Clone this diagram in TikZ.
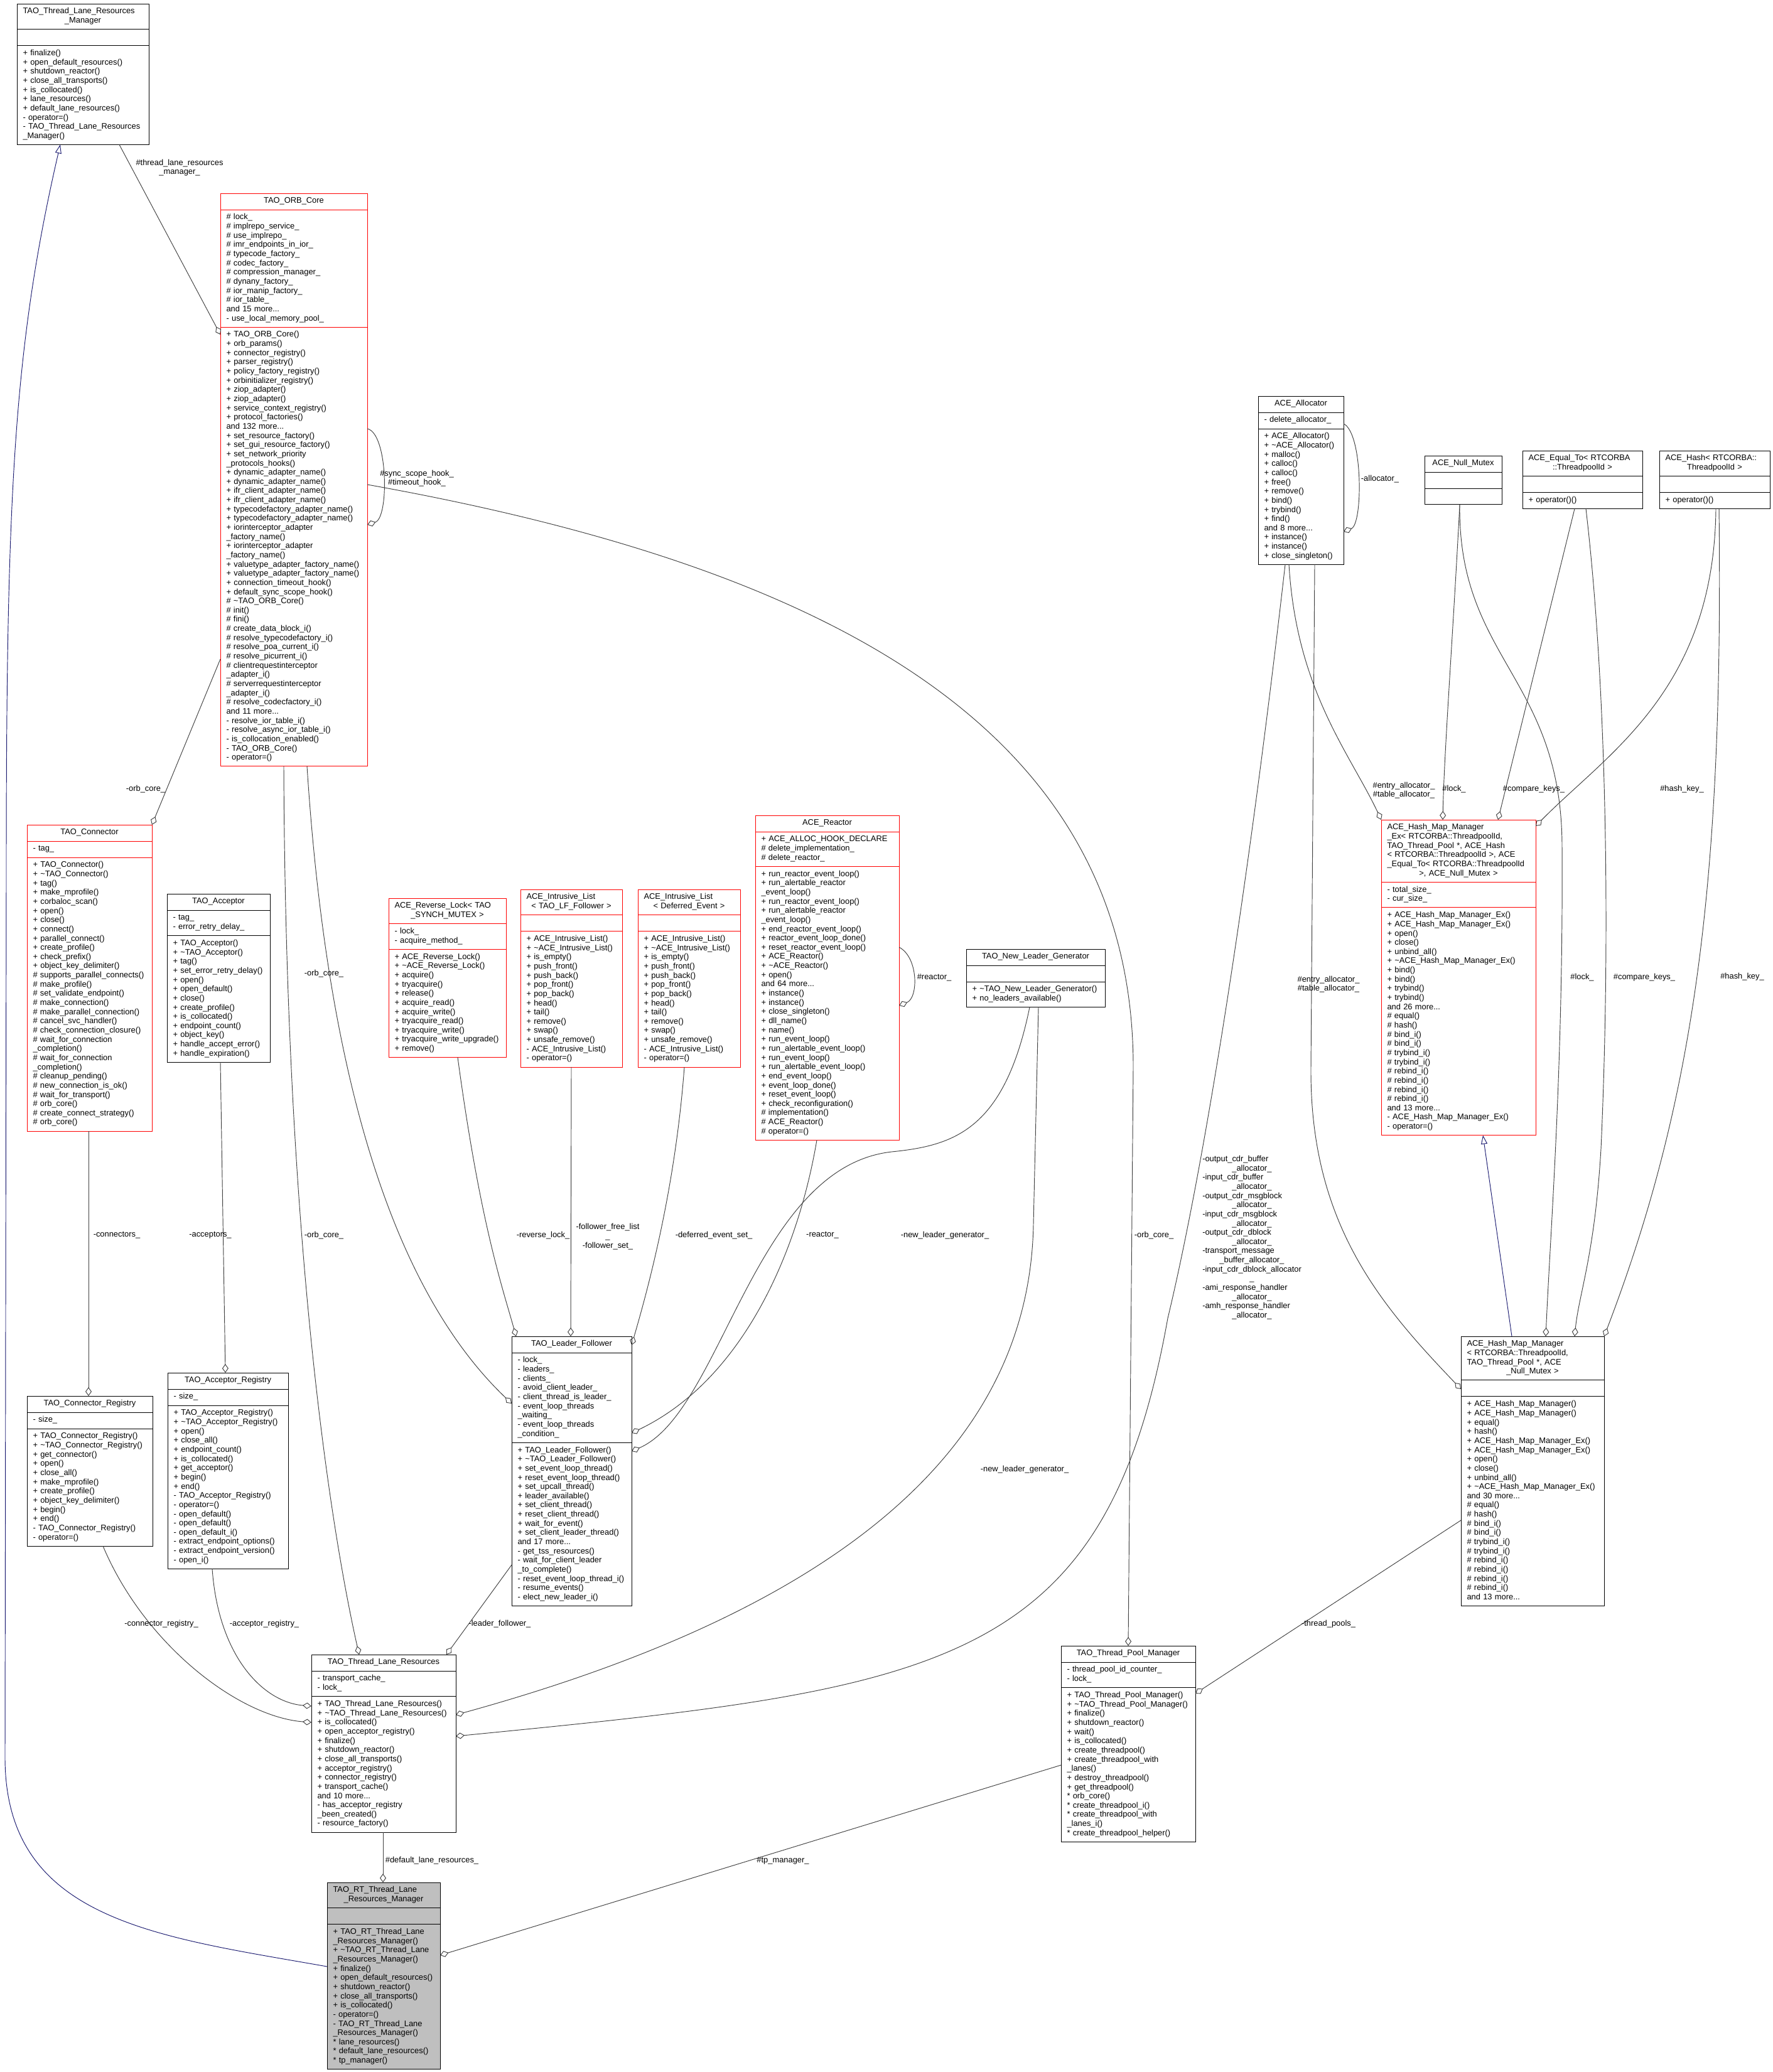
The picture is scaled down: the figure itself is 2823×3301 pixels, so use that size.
\documentclass[tikz,border=0pt]{standalone}
\usepackage{fontspec}
\setmainfont{Liberation Sans}
\usetikzlibrary{shapes.multipart,arrows.meta}
\definecolor{edgegray}{HTML}{404040}
\definecolor{inhblue}{HTML}{191970}
\definecolor{selfgray}{HTML}{BFBFBF}
\newcommand{\umlfont}{\fontsize{11}{12.5}\selectfont\hyphenpenalty=10000\exhyphenpenalty=10000\hfuzz=40pt\hbadness=10000}
\newcommand{\cpart}[1]{\strut#1\strut}
\newcommand{\ctrline}{\leavevmode\null\hfil}

\begin{document}
\catcode`\_=12
\begin{tikzpicture}[
    x=0.03cm, y=-0.03cm,
    cls/.style={rectangle split, rectangle split parts=3, draw=black, line width=0.8pt,
        anchor=north west, inner xsep=0.285cm, inner ysep=0.156cm, outer sep=0pt,
        text width={(#1-19)*0.03cm}, font=\umlfont},
    redcls/.style={cls=#1, draw=red},
    lbl/.style={font=\umlfont, align=center, inner sep=0pt},
    agg/.style={draw=edgegray, line width=0.8pt, -{Diamond[open, length=0.42cm, width=0.3cm]}},
    inh/.style={draw=inhblue, line width=0.8pt, -{Triangle[open, length=0.42cm, width=0.3cm]}}
]

\path[use as bounding box, fill=white] (0,0) rectangle (2823,3301);

% classes, top row
\node[cls=210] (tlrm) at (27,6) {\cpart{TAO_Thread_Lane_Resources\\\ctrline _Manager}%
\nodepart{two}\cpart{}%
\nodepart{three}\cpart{+ finalize()\\+ open_default_resources()\\+ shutdown_reactor()\\+ close_all_transports()\\+ is_collocated()\\+ lane_resources()\\+ default_lane_resources()\\- operator=()\\- TAO_Thread_Lane_Resources\\_Manager()}};

\node[redcls=234] (orb) at (351,308) {\cpart{\ctrline TAO_ORB_Core}%
\nodepart{two}\cpart{\# lock_\\\# implrepo_service_\\\# use_implrepo_\\\# imr_endpoints_in_ior_\\\# typecode_factory_\\\# codec_factory_\\\# compression_manager_\\\# dynany_factory_\\\# ior_manip_factory_\\\# ior_table_\\and 15 more...\\- use_local_memory_pool_}%
\nodepart{three}\cpart{+ TAO_ORB_Core()\\+ orb_params()\\+ connector_registry()\\+ parser_registry()\\+ policy_factory_registry()\\+ orbinitializer_registry()\\+ ziop_adapter()\\+ ziop_adapter()\\+ service_context_registry()\\+ protocol_factories()\\and 132 more...\\+ set_resource_factory()\\+ set_gui_resource_factory()\\+ set_network_priority\\_protocols_hooks()\\+ dynamic_adapter_name()\\+ dynamic_adapter_name()\\+ ifr_client_adapter_name()\\+ ifr_client_adapter_name()\\+ typecodefactory_adapter_name()\\+ typecodefactory_adapter_name()\\+ iorinterceptor_adapter\\_factory_name()\\+ iorinterceptor_adapter\\_factory_name()\\+ valuetype_adapter_factory_name()\\+ valuetype_adapter_factory_name()\\+ connection_timeout_hook()\\+ default_sync_scope_hook()\\\# \textasciitilde TAO_ORB_Core()\\\# init()\\\# fini()\\\# create_data_block_i()\\\# resolve_typecodefactory_i()\\\# resolve_poa_current_i()\\\# resolve_picurrent_i()\\\# clientrequestinterceptor\\_adapter_i()\\\# serverrequestinterceptor\\_adapter_i()\\\# resolve_codecfactory_i()\\and 11 more...\\- resolve_ior_table_i()\\- resolve_async_ior_table_i()\\- is_collocation_enabled()\\- TAO_ORB_Core()\\- operator=()}};

\node[cls=136] (alloc) at (2004,631) {\cpart{\ctrline ACE_Allocator}%
\nodepart{two}\cpart{- delete_allocator_}%
\nodepart{three}\cpart{+ ACE_Allocator()\\+ \textasciitilde ACE_Allocator()\\+ malloc()\\+ calloc()\\+ calloc()\\+ free()\\+ remove()\\+ bind()\\+ trybind()\\+ find()\\and 8 more...\\+ instance()\\+ instance()\\+ close_singleton()}};

\node[cls=123] (nmutex) at (2269,726) {\cpart{\ctrline ACE_Null_Mutex}%
\nodepart{two}\cpart{}%
\nodepart{three}\cpart{}};

\node[cls=191] (eqto) at (2425,718) {\cpart{ACE_Equal_To< RTCORBA\\\ctrline ::ThreadpoolId >}%
\nodepart{two}\cpart{}%
\nodepart{three}\cpart{+ operator()()}};

\node[cls=176] (hash) at (2643,718) {\cpart{ACE_Hash< RTCORBA::\\\ctrline ThreadpoolId >}%
\nodepart{two}\cpart{}%
\nodepart{three}\cpart{+ operator()()}};

% classes, middle row
\node[redcls=199] (conn) at (43,1314) {\cpart{\ctrline TAO_Connector}%
\nodepart{two}\cpart{- tag_}%
\nodepart{three}\cpart{+ TAO_Connector()\\+ \textasciitilde TAO_Connector()\\+ tag()\\+ make_mprofile()\\+ corbaloc_scan()\\+ open()\\+ close()\\+ connect()\\+ parallel_connect()\\+ create_profile()\\+ check_prefix()\\+ object_key_delimiter()\\\# supports_parallel_connects()\\\# make_profile()\\\# set_validate_endpoint()\\\# make_connection()\\\# make_parallel_connection()\\\# cancel_svc_handler()\\\# check_connection_closure()\\\# wait_for_connection\\_completion()\\\# wait_for_connection\\_completion()\\\# cleanup_pending()\\\# new_connection_is_ok()\\\# wait_for_transport()\\\# orb_core()\\\# create_connect_strategy()\\\# orb_core()}};

\node[cls=164] (acc) at (266,1424) {\cpart{\ctrline TAO_Acceptor}%
\nodepart{two}\cpart{- tag_\\- error_retry_delay_}%
\nodepart{three}\cpart{+ TAO_Acceptor()\\+ \textasciitilde TAO_Acceptor()\\+ tag()\\+ set_error_retry_delay()\\+ open()\\+ open_default()\\+ close()\\+ create_profile()\\+ is_collocated()\\+ endpoint_count()\\+ object_key()\\+ handle_accept_error()\\+ handle_expiration()}};

\node[redcls=187] (rlock) at (619,1431) {\cpart{ACE_Reverse_Lock< TAO\\\ctrline _SYNCH_MUTEX >}%
\nodepart{two}\cpart{- lock_\\- acquire_method_}%
\nodepart{three}\cpart{+ ACE_Reverse_Lock()\\+ \textasciitilde ACE_Reverse_Lock()\\+ acquire()\\+ tryacquire()\\+ release()\\+ acquire_read()\\+ acquire_write()\\+ tryacquire_read()\\+ tryacquire_write()\\+ tryacquire_write_upgrade()\\+ remove()}};

\node[redcls=162] (ilfol) at (829,1417) {\cpart{ACE_Intrusive_List\\\ctrline < TAO_LF_Follower >}%
\nodepart{two}\cpart{}%
\nodepart{three}\cpart{+ ACE_Intrusive_List()\\+ \textasciitilde ACE_Intrusive_List()\\+ is_empty()\\+ push_front()\\+ push_back()\\+ pop_front()\\+ pop_back()\\+ head()\\+ tail()\\+ remove()\\+ swap()\\+ unsafe_remove()\\- ACE_Intrusive_List()\\- operator=()}};

\node[redcls=163] (ildef) at (1016,1417) {\cpart{ACE_Intrusive_List\\\ctrline < Deferred_Event >}%
\nodepart{two}\cpart{}%
\nodepart{three}\cpart{+ ACE_Intrusive_List()\\+ \textasciitilde ACE_Intrusive_List()\\+ is_empty()\\+ push_front()\\+ push_back()\\+ pop_front()\\+ pop_back()\\+ head()\\+ tail()\\+ remove()\\+ swap()\\+ unsafe_remove()\\- ACE_Intrusive_List()\\- operator=()}};

\node[redcls=229] (reactor) at (1203,1299) {\cpart{\ctrline ACE_Reactor}%
\nodepart{two}\cpart{+ ACE_ALLOC_HOOK_DECLARE\\\# delete_implementation_\\\# delete_reactor_}%
\nodepart{three}\cpart{+ run_reactor_event_loop()\\+ run_alertable_reactor\\_event_loop()\\+ run_reactor_event_loop()\\+ run_alertable_reactor\\_event_loop()\\+ end_reactor_event_loop()\\+ reactor_event_loop_done()\\+ reset_reactor_event_loop()\\+ ACE_Reactor()\\+ \textasciitilde ACE_Reactor()\\+ open()\\and 64 more...\\+ instance()\\+ instance()\\+ close_singleton()\\+ dll_name()\\+ name()\\+ run_event_loop()\\+ run_alertable_event_loop()\\+ run_event_loop()\\+ run_alertable_event_loop()\\+ end_event_loop()\\+ event_loop_done()\\+ reset_event_loop()\\+ check_reconfiguration()\\\# implementation()\\\# ACE_Reactor()\\\# operator=()}};

\node[cls=221] (nlg) at (1539,1512) {\cpart{\ctrline TAO_New_Leader_Generator}%
\nodepart{two}\cpart{}%
\nodepart{three}\cpart{+ \textasciitilde TAO_New_Leader_Generator()\\+ no_leaders_available()}};

\node[redcls=246] (hmmex) at (2200,1306) {\cpart{ACE_Hash_Map_Manager\\_Ex< RTCORBA::ThreadpoolId,\\TAO_Thread_Pool *, ACE_Hash\\< RTCORBA::ThreadpoolId >, ACE\\_Equal_To< RTCORBA::ThreadpoolId\\\ctrline >, ACE_Null_Mutex >}%
\nodepart{two}\cpart{- total_size_\\- cur_size_}%
\nodepart{three}\cpart{+ ACE_Hash_Map_Manager_Ex()\\+ ACE_Hash_Map_Manager_Ex()\\+ open()\\+ close()\\+ unbind_all()\\+ \textasciitilde ACE_Hash_Map_Manager_Ex()\\+ bind()\\+ bind()\\+ trybind()\\+ trybind()\\and 26 more...\\\# equal()\\\# hash()\\\# bind_i()\\\# bind_i()\\\# trybind_i()\\\# trybind_i()\\\# rebind_i()\\\# rebind_i()\\\# rebind_i()\\\# rebind_i()\\and 13 more...\\- ACE_Hash_Map_Manager_Ex()\\- operator=()}};

% classes, lower rows
\node[cls=200] (connreg) at (43,2224) {\cpart{\ctrline TAO_Connector_Registry}%
\nodepart{two}\cpart{- size_}%
\nodepart{three}\cpart{+ TAO_Connector_Registry()\\+ \textasciitilde TAO_Connector_Registry()\\+ get_connector()\\+ open()\\+ close_all()\\+ make_mprofile()\\+ create_profile()\\+ object_key_delimiter()\\+ begin()\\+ end()\\- TAO_Connector_Registry()\\- operator=()}};

\node[cls=192] (accreg) at (267,2187) {\cpart{\ctrline TAO_Acceptor_Registry}%
\nodepart{two}\cpart{- size_}%
\nodepart{three}\cpart{+ TAO_Acceptor_Registry()\\+ \textasciitilde TAO_Acceptor_Registry()\\+ open()\\+ close_all()\\+ endpoint_count()\\+ is_collocated()\\+ get_acceptor()\\+ begin()\\+ end()\\- TAO_Acceptor_Registry()\\- operator=()\\- open_default()\\- open_default()\\- open_default_i()\\- extract_endpoint_options()\\- extract_endpoint_version()\\- open_i()}};

\node[cls=191] (lf) at (815,2129) {\cpart{\ctrline TAO_Leader_Follower}%
\nodepart{two}\cpart{- lock_\\- leaders_\\- clients_\\- avoid_client_leader_\\- client_thread_is_leader_\\- event_loop_threads\\_waiting_\\- event_loop_threads\\_condition_}%
\nodepart{three}\cpart{+ TAO_Leader_Follower()\\+ \textasciitilde TAO_Leader_Follower()\\+ set_event_loop_thread()\\+ reset_event_loop_thread()\\+ set_upcall_thread()\\+ leader_available()\\+ set_client_thread()\\+ reset_client_thread()\\+ wait_for_event()\\+ set_client_leader_thread()\\and 17 more...\\- get_tss_resources()\\- wait_for_client_leader\\_to_complete()\\- reset_event_loop_thread_i()\\- resume_events()\\- elect_new_leader_i()}};

\node[cls=228] (hmm) at (2327,2129) {\cpart{ACE_Hash_Map_Manager\\< RTCORBA::ThreadpoolId,\\TAO_Thread_Pool *, ACE\\\ctrline _Null_Mutex >}%
\nodepart{two}\cpart{}%
\nodepart{three}\cpart{+ ACE_Hash_Map_Manager()\\+ ACE_Hash_Map_Manager()\\+ equal()\\+ hash()\\+ ACE_Hash_Map_Manager_Ex()\\+ ACE_Hash_Map_Manager_Ex()\\+ open()\\+ close()\\+ unbind_all()\\+ \textasciitilde ACE_Hash_Map_Manager_Ex()\\and 30 more...\\\# equal()\\\# hash()\\\# bind_i()\\\# bind_i()\\\# trybind_i()\\\# trybind_i()\\\# rebind_i()\\\# rebind_i()\\\# rebind_i()\\\# rebind_i()\\and 13 more...}};

\node[cls=230] (tlr) at (496,2636) {\cpart{\ctrline TAO_Thread_Lane_Resources}%
\nodepart{two}\cpart{- transport_cache_\\- lock_}%
\nodepart{three}\cpart{+ TAO_Thread_Lane_Resources()\\+ \textasciitilde TAO_Thread_Lane_Resources()\\+ is_collocated()\\+ open_acceptor_registry()\\+ finalize()\\+ shutdown_reactor()\\+ close_all_transports()\\+ acceptor_registry()\\+ connector_registry()\\+ transport_cache()\\and 10 more...\\- has_acceptor_registry\\_been_created()\\- resource_factory()}};

\node[cls=214] (tpm) at (1690,2622) {\cpart{\ctrline TAO_Thread_Pool_Manager}%
\nodepart{two}\cpart{- thread_pool_id_counter_\\- lock_}%
\nodepart{three}\cpart{+ TAO_Thread_Pool_Manager()\\+ \textasciitilde TAO_Thread_Pool_Manager()\\+ finalize()\\+ shutdown_reactor()\\+ wait()\\+ is_collocated()\\+ create_threadpool()\\+ create_threadpool_with\\_lanes()\\+ destroy_threadpool()\\+ get_threadpool()\\{}* orb_core()\\{}* create_threadpool_i()\\{}* create_threadpool_with\\_lanes_i()\\{}* create_threadpool_helper()}};

\node[cls=180, fill=selfgray] (rt) at (521,2999) {\cpart{TAO_RT_Thread_Lane\\\ctrline _Resources_Manager}%
\nodepart{two}\cpart{}%
\nodepart{three}\cpart{+ TAO_RT_Thread_Lane\\_Resources_Manager()\\+ \textasciitilde TAO_RT_Thread_Lane\\_Resources_Manager()\\+ finalize()\\+ open_default_resources()\\+ shutdown_reactor()\\+ close_all_transports()\\+ is_collocated()\\- operator=()\\- TAO_RT_Thread_Lane\\_Resources_Manager()\\{}* lane_resources()\\{}* default_lane_resources()\\{}* tp_manager()}};

% inheritance
\draw[inh] (rt.west |- 0,3133) .. controls (250,3085) and (8,3060) .. (8,2800) -- (10,1400) .. controls (10,800) and (20,560) .. (tlrm.south -| 96,0);
\draw[inh] (hmm.north -| 2408,0) -- (hmmex.south -| 2362,0);

% members
\draw[agg] (tlrm.south -| 190,0) -- (orb.west |- 0,533);
\draw[agg] (orb.east |- 0,683) .. controls (618,690) and (620,825) .. (orb.east |- 0,836);
\draw[agg] (orb.east |- 0,772) .. controls (1300,900) and (1805,1150) .. (1805,1700) -- (tpm.north -| 1797,0);
\draw[agg] (orb.west |- 0,1050) -- (conn.north east);
\draw[agg] (orb.south -| 489,0) .. controls (520,1700) and (620,2050) .. (lf.west |- 0,2236);
\draw[agg] (orb.south -| 452,0) .. controls (455,2000) and (530,2450) .. (tlr.north -| 572,0);
\draw[agg] (conn.south -| 141,0) -- (connreg.north -| 141,0);
\draw[agg] (acc.south -| 351,0) -- (accreg.north -| 359,0);
\draw[agg] (connreg.south -| 164,0) .. controls (230,2620) and (380,2735) .. (tlr.west |- 0,2744);
\draw[agg] (accreg.south -| 338,0) .. controls (348,2640) and (420,2712) .. (tlr.west |- 0,2718);
\draw[agg] (lf.west |- 0,2493) -- (tlr.north -| 711,0);
\draw[agg] (rlock.south -| 729,0) .. controls (765,1950) and (800,2050) .. (lf.north -| 822,0);
\draw[agg] (ilfol.south -| 910,0) -- (lf.north -| 909,0);
\draw[agg] (ildef.south -| 1090,0) .. controls (1075,1900) and (1030,2060) .. (lf.east |- 0,2143);
\draw[agg] (reactor.south -| 1301,0) .. controls (1270,2000) and (1180,2200) .. (lf.east |- 0,2283);
\draw[agg] (reactor.east |- 0,1509) .. controls (1463,1525) and (1463,1590) .. (reactor.east |- 0,1602);
\draw[agg] (nlg.south -| 1640,0) .. controls (1600,1800) and (1520,1825) .. (1420,1835) .. controls (1200,1860) and (1150,2250) .. (lf.east |- 0,2312);
\draw[agg] (nlg.south -| 1654,0) -- (1646,1950) .. controls (1640,2300) and (1350,2560) .. (tlr.east |- 0,2732);
\draw[agg] (alloc.south -| 2047,0) .. controls (1990,1400) and (1920,1850) .. (1860,2100) .. controls (1760,2660) and (1500,2690) .. (tlr.east |- 0,2766);
\draw[agg] (alloc.east |- 0,675) .. controls (2171,690) and (2171,835) .. (alloc.east |- 0,847);
\draw[agg] (alloc.south -| 2053,0) .. controls (2065,1100) and (2150,1200) .. (hmmex.north west);
\draw[agg] (alloc.south -| 2094,0) -- (2088,1700) .. controls (2086,1950) and (2200,2080) .. (hmm.west |- 0,2213);
\draw[agg] (nmutex.south -| 2325,0) .. controls (2315,1000) and (2300,1200) .. (hmmex.north -| 2298,0);
\draw[agg] (nmutex.south -| 2325,0) .. controls (2322,1050) and (2488,1080) .. (2488,1350) .. controls (2490,1700) and (2470,1950) .. (hmm.north -| 2462,0);
\draw[agg] (eqto.south -| 2508,0) -- (hmmex.north -| 2386,0);
\draw[agg] (eqto.south -| 2526,0) .. controls (2560,1100) and (2565,1500) .. (2550,1830) .. controls (2540,2000) and (2515,2060) .. (hmm.north -| 2508,0);
\draw[agg] (hash.south -| 2733,0) .. controls (2730,1100) and (2560,1200) .. (hmmex.east |- 0,1316);
\draw[agg] (hash.south -| 2738,0) .. controls (2745,1400) and (2700,1750) .. (hmm.north east);
\draw[agg] (hmm.west |- 0,2422) -- (tpm.east |- 0,2698);
\draw[agg] (tlr.south -| 610,0) -- (rt.north -| 610,0);
\draw[agg] (tpm.west |- 0,2812) -- (rt.east |- 0,3115);

% member labels
\node[lbl] (l1) at (286,267) {\#thread_lane_resources\\_manager_};
\node[lbl] (l2) at (664,762) {\#sync_scope_hook_\\\#timeout_hook_};
\node[lbl] (l3) at (1838,1968) {-orb_core_};
\node[lbl] (l4) at (232,1257) {-orb_core_};
\node[lbl] (l5) at (516,1551) {-orb_core_};
\node[lbl] (l6) at (516,1968) {-orb_core_};
\node[lbl] (l7) at (186,1968) {-connectors_};
\node[lbl] (l8) at (335,1968) {-acceptors_};
\node[lbl] (l9) at (257,2587) {-connector_registry_};
\node[lbl] (l10) at (421,2587) {-acceptor_registry_};
\node[lbl] (l11) at (796,2587) {-leader_follower_};
\node[lbl] (l12) at (865,1968) {-reverse_lock_};
\node[lbl] (l13) at (968,1970) {-follower_free_list\\_\\-follower_set_};
\node[lbl] (l14) at (1137,1968) {-deferred_event_set_};
\node[lbl] (l15) at (1310,1968) {-reactor_};
\node[lbl] (l16) at (1505,1968) {-new_leader_generator_};
\node[lbl] (l17) at (1632,2341) {-new_leader_generator_};
\node[lbl] (l18) at (1488,1557) {\#reactor_};
\node[lbl] (l19) at (2198,763) {-allocator_};
\node[lbl, text width=4.72cm, align=none, anchor=north west] (l20) at (1915,1840) {\strut-output_cdr_buffer\\\ctrline _allocator_\\-input_cdr_buffer\\\ctrline _allocator_\\-output_cdr_msgblock\\\ctrline _allocator_\\-input_cdr_msgblock\\\ctrline _allocator_\\-output_cdr_dblock\\\ctrline _allocator_\\-transport_message\\\ctrline _buffer_allocator_\\-input_cdr_dblock_allocator\\\ctrline _\\-ami_response_handler\\\ctrline _allocator_\\-amh_response_handler\\\ctrline _allocator_};
\node[lbl] (l21) at (2116,1568) {\#entry_allocator_\\\#table_allocator_};
\node[lbl] (l22) at (2236,1259) {\#entry_allocator_\\\#table_allocator_};
\node[lbl] (l23) at (2316,1257) {\#lock_};
\node[lbl] (l24) at (2443,1257) {\#compare_keys_};
\node[lbl] (l25) at (2679,1257) {\#hash_key_};
\node[lbl] (l26) at (2520,1557) {\#lock_};
\node[lbl] (l27) at (2619,1557) {\#compare_keys_};
\node[lbl] (l28) at (2775,1556) {\#hash_key_};
\node[lbl] (l29) at (2116,2587) {-thread_pools_};
\node[lbl] (l30) at (688,2964) {\#default_lane_resources_};
\node[lbl] (l31) at (1247,2964) {\#tp_manager_};

\end{tikzpicture}
\end{document}
